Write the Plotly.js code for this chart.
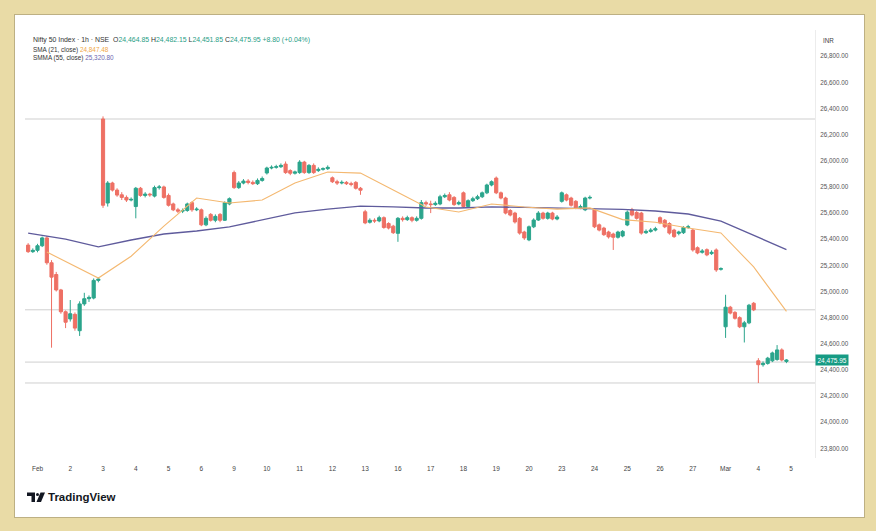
<!DOCTYPE html>
<html>
<head>
<meta charset="utf-8">
<script src="https://cdn.plot.ly/plotly-3.0.1.min.js"></script>
<style>
  html, body { margin:0; padding:0; width:876px; height:531px; overflow:hidden; background:#e9dba6; }
  #panel { position:absolute; left:14px; top:14px; width:849px; height:502px; background:#ffffff; border:1px solid #bdb083; }
  #chart { position:absolute; left:0; top:0; width:876px; height:531px; }
</style>
</head>
<body>
<div id="panel"></div>
<div id="chart"></div>
<script>
// ---- data (1h candles, Jan 30 last 2 bars, then 7 bars per trading day) ----
const dayLabels = ["Feb","2","3","4","5","6","9","10","11","12","13","16","17","18","19","20","23","24","25","26","27","Mar","4","5"];
const barsPerDay = 7;
const leadBars = 2; // last bars of Jan 30

const open = [25355,25305,
 25315,25350,25410,25220,25130,25012,24845,
 24790,24825,24700,24905,24945,24950,25085,
 26320,25677,25830,25776,25740,25720,25700,
 25650,25790,25735,25745,25730,25795,25800,
 25735,25670,25625,25615,25620,25680,25625,
 25625,25510,25590,25545,25590,25545,25670,
 25910,25795,25830,25845,25835,25825,25850,
 25907,25945,25950,25955,25975,25925,25905,
 25910,25990,25910,25965,25925,25935,25940,
 25870,25840,25830,25835,25825,25835,25790,
 25610,25530,25545,25540,25565,25520,25500,
 25445,25560,25550,25565,25545,25560,25680,
 25670,25665,25670,25725,25740,25720,25670,
 25755,25650,25695,25710,25725,25755,25815,
 25868,25755,25715,25620,25600,25560,25455,
 25395,25495,25547,25600,25560,25600,25555,
 25690,25740,25715,25690,25640,25625,25715,
 25625,25510,25485,25455,25440,25415,25425,
 25509,25625,25605,25600,25450,25460,25470,
 25565,25545,25520,25470,25445,25450,25490,
 25470,25335,25300,25320,25290,25318,25170,
 24730,24880,24840,24800,24730,24760,24910,
 24470,24440,24450,24470,24480,24553,24464.85];
const high = [25370,25330,
 25365,25420,25425,25240,25150,25020,24855,
 24935,24840,24925,24990,24970,25100,25110,
 26340,25845,25840,25790,25760,25735,25720,
 25800,25800,25760,25755,25810,25815,25810,
 25750,25680,25640,25635,25680,25690,25645,
 25635,25575,25600,25590,25600,25690,25720,
 25925,25845,25860,25860,25850,25865,25880,
 25955,25965,25970,25980,25995,25935,25925,
 26005,26000,25975,25980,25950,25950,25965,
 25880,25855,25850,25845,25840,25845,25800,
 25625,25560,25560,25580,25575,25530,25510,
 25570,25575,25580,25575,25575,25700,25695,
 25695,25690,25740,25750,25760,25730,25695,
 25765,25705,25725,25740,25765,25825,25850,
 25880,25765,25725,25630,25610,25570,25465,
 25505,25560,25615,25610,25610,25610,25585,
 25765,25750,25725,25700,25665,25725,25735,
 25635,25520,25495,25465,25450,25465,25470,
 25620,25640,25615,25610,25475,25485,25495,
 25575,25555,25530,25480,25465,25500,25510,
 25480,25345,25325,25330,25315,25330,25185,
 24975,24890,24850,24810,24775,24905,24920,
 24490,24465,24500,24540,24590,24565,24482.15];
const low = [25295,25295,
 25300,25340,25205,24570,25000,24830,24720,
 24770,24700,24660,24890,24920,24940,25070,
 25640,25650,25765,25725,25700,25685,25690,
 25560,25725,25720,25725,25720,25780,25710,
 25650,25615,25600,25600,25610,25610,25615,
 25500,25500,25535,25530,25530,25540,25660,
 25785,25785,25820,25820,25815,25815,25840,
 25895,25935,25940,25945,25900,25890,25895,
 25900,25900,25900,25900,25915,25925,25930,
 25830,25815,25820,25815,25805,25780,25740,
 25515,25520,25525,25530,25480,25475,25440,
 25380,25535,25540,25530,25535,25550,25655,
 25600,25655,25660,25715,25690,25655,25660,
 25640,25640,25685,25700,25715,25745,25805,
 25745,25705,25590,25575,25520,25435,25395,
 25385,25485,25540,25550,25550,25545,25545,
 25680,25690,25650,25630,25630,25615,25705,
 25485,25460,25425,25405,25318,25405,25415,
 25500,25575,25550,25435,25440,25450,25460,
 25515,25485,25435,25410,25430,25440,25480,
 25305,25285,25290,25270,25280,25150,25160,
 24645,24825,24785,24720,24610,24750,24850,
 24300,24425,24440,24460,24470,24465,24451.85];
const close = [25305,25315,
 25350,25410,25220,25110,25012,24845,24765,
 24830,24720,24905,24945,24955,25085,25095,
 25660,25830,25776,25738,25720,25700,25705,
 25790,25735,25745,25740,25795,25800,25720,
 25660,25625,25615,25620,25670,25625,25630,
 25510,25560,25545,25575,25545,25680,25710,
 25795,25830,25845,25835,25825,25850,25865,
 25945,25950,25955,25965,25910,25905,25915,
 25990,25910,25965,25910,25935,25940,25950,
 25840,25830,25835,25825,25820,25790,25775,
 25525,25545,25540,25565,25490,25486,25450,
 25560,25550,25565,25545,25560,25680,25670,
 25665,25675,25725,25735,25700,25665,25680,
 25650,25695,25710,25725,25755,25815,25840,
 25755,25715,25600,25585,25532,25447,25410,
 25495,25547,25600,25560,25600,25555,25570,
 25755,25700,25660,25640,25650,25715,25720,
 25495,25470,25435,25418,25415,25455,25460,
 25607,25585,25560,25447,25460,25470,25480,
 25525,25495,25447,25420,25455,25490,25495,
 25318,25295,25310,25280,25300,25165,25175,
 24880,24835,24795,24730,24760,24895,24860,
 24440,24450,24490,24530,24553,24476,24475.95];

// Moving averages, one value per trading-day end (Feb 1 ... Mar 4)
const sma21 = [25302,25103,25270,25500,25715,25677,25700,25830,25914,25906,25777,25646,25608,25670,25647,25630,25640,25550,25530,25486,25448,25188,24847.48];
const smma55Start = 25447; // value at the left edge (Jan 30)
const smma55 = [25400,25341,25394,25440,25463,25494,25547,25601,25631,25654,25647,25639,25639,25647,25643,25639,25635,25628,25616,25593,25539,25432,25320.80];

const levels = [26320, 24860, 24460, 24300];
const priceTicks = [23800,24000,24200,24400,24600,24800,25000,25200,25400,25600,25800,26000,26200,26400,26600,26800];

// ---- build ----
const xs = open.map((_, i) => i - leadBars);
const dayEnd = d => d * barsPerDay + barsPerDay - 1;
const smaX = sma21.map((_, d) => d === 0 ? 2 : dayEnd(d));
const smmaX = [-leadBars].concat(smma55.map((_, d) => dayEnd(d)));
const smmaY = [smma55Start].concat(smma55);
const tickX = dayLabels.map((_, d) => d * barsPerDay);

const GREEN = '#2ba58c', RED = '#ee7064';

const traces = [
  { type:'scatter', mode:'lines', x: smmaX, y: smmaY, line:{color:'#5f5b9c', width:1.3}, hoverinfo:'skip' },
  { type:'scatter', mode:'lines', x: smaX, y: sma21, line:{color:'#f4b870', width:1.1}, hoverinfo:'skip' },
  { type:'candlestick', x: xs, open, high, low, close,
    increasing:{line:{color:GREEN, width:1}, fillcolor:GREEN},
    decreasing:{line:{color:RED, width:1}, fillcolor:RED},
    whiskerwidth:0 }
];

const L = 25, R = 815, T = 30, B = 458;
const px = v => (v - L) / (R - L);
const py = v => (B - v) / (B - T);

const shapes = levels.map(v => ({ type:'line', xref:'paper', yref:'y', x0:0, x1:1, y0:v, y1:v,
  line:{color:'#cfcfcf', width:1}, layer:'below' }));

// TradingView logo glyph
const logoColor = '#131722';
shapes.push({ type:'path', xref:'paper', yref:'paper', fillcolor:logoColor, line:{width:0},
  path:`M ${px(27)} ${py(492.5)} L ${px(35)} ${py(492.5)} L ${px(35)} ${py(502)} L ${px(31.5)} ${py(502)} L ${px(31.5)} ${py(496)} L ${px(27)} ${py(496)} Z` });
shapes.push({ type:'circle', xref:'paper', yref:'paper', fillcolor:logoColor, line:{width:0},
  x0:px(36), x1:px(39), y0:py(496), y1:py(493) });
shapes.push({ type:'path', xref:'paper', yref:'paper', fillcolor:logoColor, line:{width:0},
  path:`M ${px(40.5)} ${py(492.5)} L ${px(45)} ${py(492.5)} L ${px(41)} ${py(502)} L ${px(36.5)} ${py(502)} Z` });

const teal = '#1f9e85';
const font = 'Liberation Sans, Arial, sans-serif';
const annotations = [
  { xref:'paper', yref:'paper', x:px(31), y:py(40), xanchor:'left', yanchor:'middle', showarrow:false,
    font:{family:font, size:6.9, color:'#333'},
    text:`Nifty 50 Index · 1h · NSE &nbsp;O<span style="color:${teal}">24,464.85</span> H<span style="color:${teal}">24,482.15</span> L<span style="color:${teal}">24,451.85</span> C<span style="color:${teal}">24,475.95</span> <span style="color:${teal}">+8.80 (+0.04%)</span>` },
  { xref:'paper', yref:'paper', x:px(31), y:py(49.5), xanchor:'left', yanchor:'middle', showarrow:false,
    font:{family:font, size:6.4, color:'#333'},
    text:`SMA (21, close) <span style="color:#f0a848">24,847.48</span>` },
  { xref:'paper', yref:'paper', x:px(31), y:py(58.5), xanchor:'left', yanchor:'middle', showarrow:false,
    font:{family:font, size:6.4, color:'#333'},
    text:`SMMA (55, close) <span style="color:#6a66b0">25,320.80</span>` },
  { xref:'paper', yref:'paper', x:px(821), y:py(41), xanchor:'left', yanchor:'middle', showarrow:false,
    font:{family:font, size:6.3, color:'#444'}, text:'INR' },
  { xref:'paper', yref:'y', x:1, y:close[close.length-1], xanchor:'left', yanchor:'middle', showarrow:false,
    bgcolor:'#169b84', borderpad:1.5, font:{family:font, size:6.5, color:'#ffffff'}, text:'24,475.95' },
  { xref:'paper', yref:'paper', x:px(46), y:py(497), xanchor:'left', yanchor:'middle', showarrow:false,
    font:{family:font, size:11.5, color:logoColor}, text:'<b>TradingView</b>' }
];

const layout = {
  width:876, height:531,
  margin:{l:L, r:876-R, t:T, b:531-B, pad:0},
  paper_bgcolor:'rgba(0,0,0,0)', plot_bgcolor:'rgba(0,0,0,0)',
  showlegend:false, boxgap:0.25, boxgroupgap:0.1,
  xaxis:{ type:'linear', range:[-2.67, 166.1], tickvals:tickX, ticktext:dayLabels,
    showgrid:false, zeroline:false, showline:false, ticks:'', ticklabelstandoff:5,
    tickfont:{family:font, size:6.5, color:'#444'}, rangeslider:{visible:false}, fixedrange:true },
  yaxis:{ side:'right', range:[23726, 27001], tickvals:priceTicks, tickformat:',.2f',
    showgrid:false, zeroline:false, showline:true, linecolor:'#ececec', linewidth:1, ticks:'',
    ticklabelstandoff:3, tickfont:{family:font, size:6.3, color:'#555'}, fixedrange:true },
  shapes, annotations
};

Plotly.newPlot('chart', traces, layout, {displayModeBar:false, staticPlot:true});
</script>
</body>
</html>
